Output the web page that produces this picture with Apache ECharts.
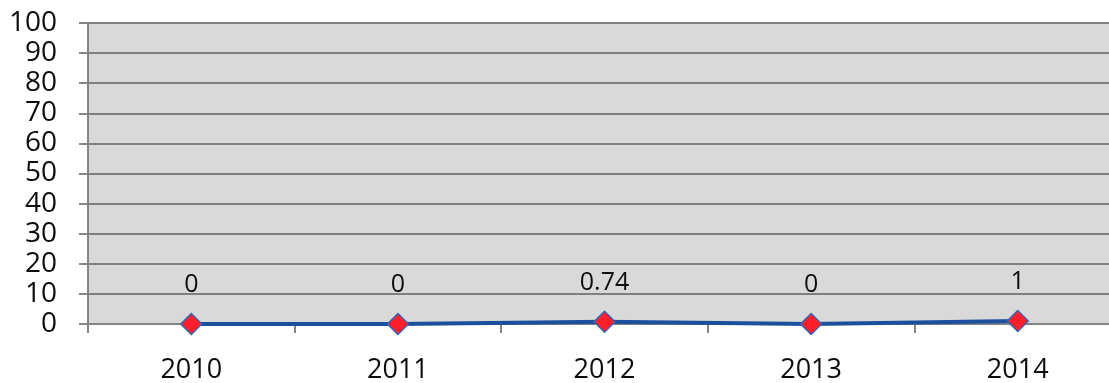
<!DOCTYPE html>
<html>
<head>
<meta charset="utf-8">
<script src="https://cdn.jsdelivr.net/npm/echarts@6/dist/echarts.min.js"></script>
<style>
  html, body { margin: 0; padding: 0; background: #ffffff; }
  #chart { width: 1109px; height: 383px; }
</style>
</head>
<body>
<div id="chart"></div>
<script>
// Yearly values shown on the line
const years = ['2010', '2011', '2012', '2013', '2014'];
const values = [0, 0, 0.74, 0, 1];
const valueLabels = ['0', '0', '0.74', '0', '1'];

const chart = echarts.init(document.getElementById('chart'));

chart.setOption({
  animation: false,
  textStyle: { fontFamily: 'Open Sans' },
  grid: {
    left: 88,
    right: -12,
    top: 23,
    bottom: 59,
    outerBoundsMode: 'none',
    show: true,
    backgroundColor: '#d9d9d9',
    borderWidth: 0
  },
  xAxis: {
    type: 'category',
    data: years,
    boundaryGap: true,
    axisLine: { show: true, lineStyle: { color: '#858585', width: 2 } },
    axisTick: { show: true, length: 9, lineStyle: { color: '#858585', width: 2 } },
    axisLabel: { color: '#0d0d0d', fontSize: 27, margin: 33 },
    splitLine: { show: false }
  },
  yAxis: {
    type: 'value',
    min: 0,
    max: 100,
    interval: 10,
    axisLine: { show: true, lineStyle: { color: '#858585', width: 2 } },
    axisTick: { show: true, length: 9, lineStyle: { color: '#858585', width: 2 } },
    axisLabel: { color: '#0d0d0d', fontSize: 28, margin: 31 },
    splitLine: { show: true, lineStyle: { color: '#7f7f7f', width: 2 } }
  },
  series: [{
    type: 'line',
    data: values,
    lineStyle: { color: '#1c4f9e', width: 4 },
    symbol: 'diamond',
    symbolSize: 21,
    itemStyle: { color: '#ff1f2a', borderColor: '#3a64b0', borderWidth: 1.5 },
    label: {
      show: true,
      position: 'top',
      distance: 15,
      color: '#0d0d0d',
      fontSize: 25,
      formatter: p => valueLabels[p.dataIndex]
    },
    z: 5
  }]
});
</script>
</body>
</html>
